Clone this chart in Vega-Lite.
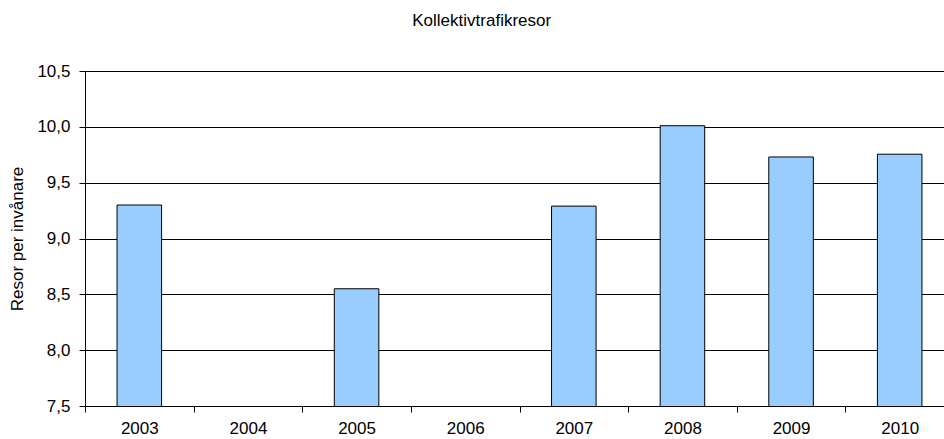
{
  "$schema": "https://vega.github.io/schema/vega-lite/v6.json",
  "width": 858,
  "height": 335,
  "autosize": {"type": "none"},
  "padding": {"left": 85, "top": 71, "right": 1, "bottom": 33},
  "background": "white",
  "title": {
    "text": "Kollektivtrafikresor",
    "font": "Liberation Sans",
    "fontSize": 17,
    "fontWeight": "normal",
    "color": "#000",
    "anchor": "middle",
    "frame": "bounds",
    "offset": 32
  },
  "data": {
    "values": [
      {"year": "2003", "value": 9.30},
      {"year": "2004", "value": null},
      {"year": "2005", "value": 8.55},
      {"year": "2006", "value": null},
      {"year": "2007", "value": 9.29},
      {"year": "2008", "value": 10.01},
      {"year": "2009", "value": 9.73},
      {"year": "2010", "value": 9.755}
    ]
  },
  "mark": {"type": "bar", "fill": "#99CCFF", "stroke": "#000", "strokeWidth": 1, "width": {"band": 0.41}, "clip": true},
  "encoding": {
    "x": {
      "field": "year",
      "type": "nominal",
      "scale": {"domain": ["2003","2004","2005","2006","2007","2008","2009","2010"], "paddingInner": 0, "paddingOuter": 0, "range": [0, 869]},
      "axis": {
        "title": null,
        "labelAngle": 0,
        "tickBand": "extent",
        "labelFont": "Liberation Sans",
        "labelFontSize": 17,
        "labelColor": "#000",
        "labelPadding": 8,
        "domainColor": "#000",
        "tickColor": "#000",
        "tickSize": 6,
        "grid": false
      }
    },
    "y": {
      "field": "value",
      "type": "quantitative",
      "scale": {"domain": [7.5, 10.5], "zero": false, "nice": false},
      "axis": {
        "title": "Resor per invånare",
        "titleFont": "Liberation Sans",
        "titleFontSize": 17,
        "titleFontWeight": "normal",
        "titleColor": "#000",
        "titlePadding": 10,
        "values": [7.5, 8, 8.5, 9, 9.5, 10, 10.5],
        "labelExpr": "replace(format(datum.value, '.1f'), '.', ',')",
        "labelFont": "Liberation Sans",
        "labelFontSize": 17,
        "labelColor": "#000",
        "labelPadding": 9,
        "domainColor": "#000",
        "tickColor": "#000",
        "tickSize": 6,
        "grid": true,
        "gridColor": "#000",
        "gridWidth": 1
      }
    }
  },
  "config": {"view": {"stroke": null}}
}
